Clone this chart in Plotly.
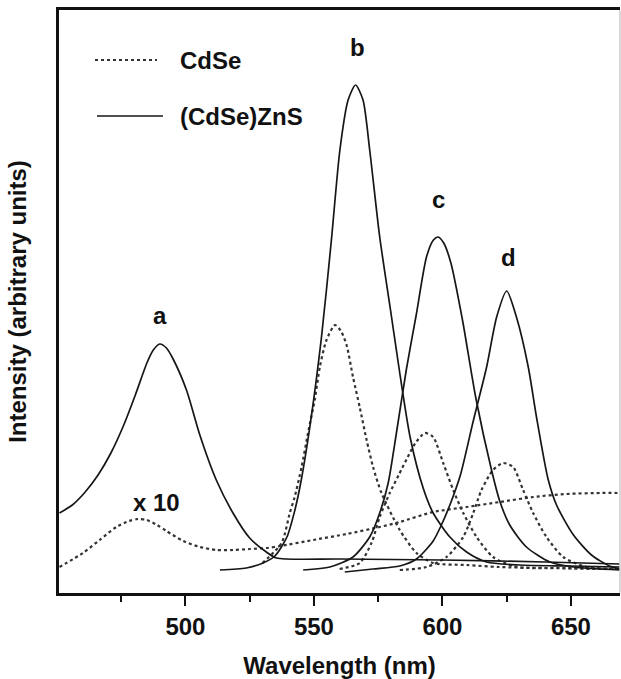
import plotly.graph_objects as go

# ---------------- data (wavelength in nm, intensity in arbitrary units) ----------------
# (CdSe)ZnS core-shell spectra (solid)
zns_a_wl = [451, 456, 461, 466, 471, 476, 480.5, 485, 487.5, 490, 492.6, 495.2, 500.4, 505.6, 512, 518.5, 525, 531.5, 535.4, 560, 600, 640, 669]
zns_a_int = [80, 88, 101, 118, 140, 168, 198, 230, 243, 249, 245, 234, 203, 158, 113, 80, 55, 41, 35, 34, 33, 31, 29]

zns_b_wl = [513.4, 523.7, 530.2, 534.8, 539.5, 542.5, 545, 548.4, 552.9, 556.8, 560.1, 563.3, 566.2, 569.1, 571.7, 575.6, 579.8, 583.4, 587.5, 592.5, 596.4, 602.9, 609.4, 617.2, 630, 650, 669]
zns_b_int = [23, 25, 30, 37, 56, 82, 112, 166, 255, 353, 443, 493, 508, 493, 443, 356, 283, 220, 155, 105, 80, 56, 41, 31, 28, 27, 26]

zns_c_wl = [545.8, 556.2, 565.2, 571.7, 575.6, 578.9, 582.1, 586, 589.8, 593.8, 596.5, 598.3, 600.5, 603.3, 607.8, 613, 619.1, 622.3, 626.2, 632.7, 641.8, 650.9, 669]
zns_c_int = [23, 26, 36, 56, 80, 110, 160, 224, 278, 336, 353, 356, 350, 330, 273, 195, 123, 92, 68, 46, 31, 26, 23]

zns_d_wl = [562, 573, 583.4, 589.9, 596.4, 599.6, 602.9, 607, 612, 617.2, 621.1, 625, 628.8, 633.4, 636.6, 641.1, 644.4, 651, 658, 665, 669]
zns_d_int = [21, 24, 27, 34, 52, 68, 88, 118, 172, 226, 276, 302, 276, 226, 176, 114, 88, 58, 38, 27, 24]

# CdSe core spectra (dotted); "a" is multiplied by 10
cdse_a_wl = [451, 460.1, 466.6, 473.1, 478, 481.5, 485, 489, 492.6, 499.1, 505.6, 512, 518.5, 525, 531.5, 537, 549.7, 562.7, 575.6, 583.4, 596.4, 609.4, 622.3, 635.3, 648.3, 661.3, 669.5]
cdse_a_int = [26, 40, 53, 66, 72, 74, 73, 68, 62, 52, 46, 43, 43, 44, 45, 47, 53, 59, 66, 71, 81, 86, 91, 96, 99, 100, 100]

cdse_b_wl = [530, 537.4, 540.6, 542.5, 545.2, 547.7, 550.3, 552.3, 554.9, 558.2, 560.5, 562.7, 565.2, 567.8, 570.5, 573, 576.3, 583.4, 589.9, 596.4, 609.4, 622, 640, 669]
cdse_b_int = [30, 50, 80, 96, 126, 160, 193, 226, 253, 268, 262, 248, 216, 186, 153, 126, 100, 63, 40, 30, 28, 26, 25, 24]

cdse_c_wl = [560, 567.8, 572.4, 575.6, 579.5, 583, 586.5, 589.5, 593.2, 596.4, 600.3, 604.2, 608.1, 613.3, 619.7, 628.8, 645, 669]
cdse_c_int = [24, 30, 50, 76, 100, 118, 136, 150, 160, 156, 130, 103, 80, 56, 36, 26, 25, 24]

cdse_d_wl = [583.4, 593.8, 601.6, 608.1, 612, 615.2, 619.7, 623.6, 627.5, 631.4, 635.3, 640.5, 647, 656.1, 669]
cdse_d_int = [23, 26, 36, 56, 80, 103, 123, 130, 126, 103, 80, 56, 36, 26, 24]

x_tick_vals = [500, 550, 600, 650]
x_tick_text = ["500", "550", "600", "650"]
x_minor_vals = [475, 525, 575, 625]

curve_labels = ["a", "b", "c", "d", "x 10"]
label_wl = [490, 566.8, 598.3, 625.9, 488.8]
label_int = [278, 546, 394, 336, 91]

legend_names = ["CdSe", "(CdSe)ZnS"]

# ---------------- figure ----------------
FONT = "Liberation Sans, Arial, Helvetica, sans-serif"
FS = 24
fig = go.Figure()

solid = dict(color="#161616", width=1.7)
dotted = dict(color="#333333", width=2.2, dash="dot")
SMOOTH = 0.7

for wl, it in [(cdse_a_wl, cdse_a_int), (cdse_b_wl, cdse_b_int), (cdse_c_wl, cdse_c_int), (cdse_d_wl, cdse_d_int)]:
    fig.add_trace(go.Scatter(x=wl, y=it, mode="lines", line=dict(**dotted, shape="spline", smoothing=SMOOTH),
                             showlegend=False, hoverinfo="skip", name=legend_names[0]))
for wl, it in [(zns_a_wl, zns_a_int), (zns_b_wl, zns_b_int), (zns_c_wl, zns_c_int), (zns_d_wl, zns_d_int)]:
    fig.add_trace(go.Scatter(x=wl, y=it, mode="lines", line=dict(**solid, shape="spline", smoothing=SMOOTH),
                             showlegend=False, hoverinfo="skip", name=legend_names[1]))

for t, lx, ly in zip(curve_labels, label_wl, label_int):
    fig.add_annotation(x=lx, y=ly, text=t, showarrow=False, yanchor="middle",
                       font=dict(family=FONT, size=FS, color="#111", weight="bold"))

# legend drawn as line samples + labels
L, W, H = 59, 561, 583
def px(x):
    return (x - L) / W
def py(y):
    return (593 - y) / H

fig.add_shape(type="line", xref="paper", yref="paper", x0=px(95), x1=px(157), y0=py(60), y1=py(60),
              line=dict(color="#333333", width=2.2, dash="dot"))
fig.add_shape(type="line", xref="paper", yref="paper", x0=px(97), x1=px(163), y0=py(116), y1=py(116),
              line=dict(color="#161616", width=1.7))
fig.add_annotation(xref="paper", yref="paper", x=px(178), y=py(61), text=legend_names[0], showarrow=False,
                   xanchor="left", yanchor="middle", font=dict(family=FONT, size=FS, color="#111", weight="bold"))
fig.add_annotation(xref="paper", yref="paper", x=px(178), y=py(117), text=legend_names[1], showarrow=False,
                   xanchor="left", yanchor="middle", font=dict(family=FONT, size=FS, color="#111", weight="bold"))

# faint right border
fig.add_shape(type="line", xref="paper", yref="paper", x0=1, x1=1, y0=0, y1=1,
              line=dict(color="#cccccc", width=1.5))

fig.update_layout(
    width=621, height=679,
    margin=dict(l=59, r=1, t=10, b=86),
    paper_bgcolor="white", plot_bgcolor="white",
    font=dict(family=FONT, size=FS, color="#111"),
    showlegend=False,
)
fig.update_xaxes(
    range=[450.8, 669.1], showgrid=False, zeroline=False,
    showline=True, linecolor="#111", linewidth=2.5, mirror=True,
    ticks="outside", ticklen=10, tickwidth=2, tickcolor="#111",
    tickvals=x_tick_vals, ticktext=x_tick_text,
    tickfont=dict(family=FONT, size=FS, color="#111", weight="bold"),
    minor=dict(ticks="outside", ticklen=6, tickwidth=2, tickcolor="#111", tickvals=x_minor_vals),
    title=dict(text="Wavelength (nm)", standoff=22,
               font=dict(family=FONT, size=FS, color="#111", weight="bold")),
)
fig.update_yaxes(
    range=[0, 583], showgrid=False, zeroline=False,
    showline=True, linecolor="#111", linewidth=2.5,
    showticklabels=False, ticks="",
    title=dict(text="Intensity (arbitrary units)", standoff=23,
               font=dict(family=FONT, size=FS, color="#111", weight="bold")),
)

fig.write_html("out.html")
